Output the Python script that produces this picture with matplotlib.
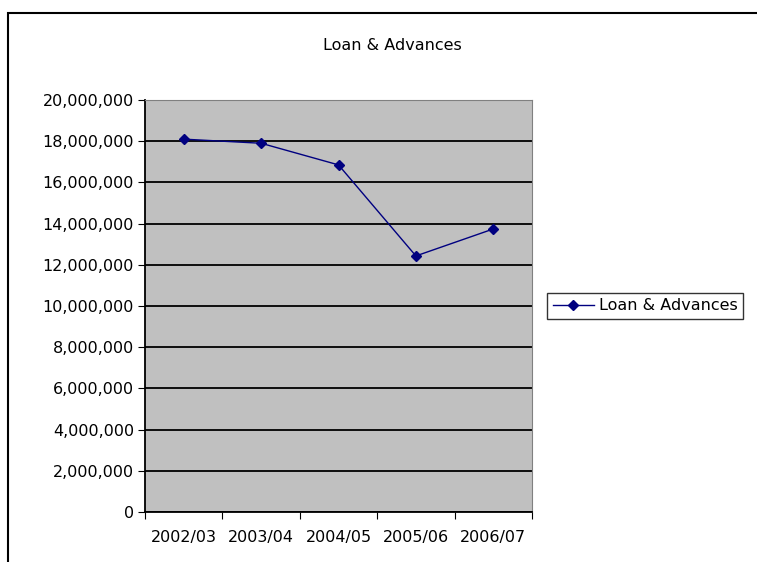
import matplotlib
matplotlib.use("Agg")
import matplotlib.pyplot as plt
from matplotlib.patches import Rectangle
from matplotlib.ticker import FuncFormatter, FixedLocator, NullFormatter

years = ["2002/03", "2003/04", "2004/05", "2005/06", "2006/07"]
loans = [18100000, 17900000, 16850000, 12430000, 13740000]

plt.rcParams["font.family"] = ["DejaVu Sans"]

fig = plt.figure(figsize=(7.57, 5.62), dpi=100)
fig.patches.append(Rectangle((8 / 757, -0.1), 1.2, (562 - 13) / 562 + 0.1,
                             transform=fig.transFigure, fill=False,
                             edgecolor="black", linewidth=1.5))

ax = fig.add_axes([145 / 757, 50 / 562, 387 / 757, 412 / 562])
ax.set_facecolor("#c0c0c0")
x = list(range(len(years)))
ax.plot(x, loans, color="#000080", linewidth=1, marker="D",
        markersize=5, label="Loan & Advances")

ax.set_xlim(-0.5, len(years) - 0.5)
ax.set_ylim(0, 20000000)
ax.set_yticks(range(0, 20000001, 2000000))
ax.yaxis.set_major_formatter(FuncFormatter(lambda v, p: f"{int(v):,}"))
ax.grid(axis="y", color="black", linewidth=1.3)
ax.set_axisbelow(True)

ax.xaxis.set_major_locator(FixedLocator([i - 0.5 for i in range(len(years) + 1)]))
ax.xaxis.set_major_formatter(NullFormatter())
ax.xaxis.set_minor_locator(FixedLocator(x))
ax.set_xticklabels(years, minor=True)
ax.tick_params(axis="x", which="minor", length=0, pad=13, labelsize=11.5)
ax.tick_params(axis="x", which="major", length=5, direction="out")
ax.tick_params(axis="y", length=5, direction="out", labelsize=11.5, pad=3)

for s in ["top", "right"]:
    ax.spines[s].set_color("#808080")
for s in ["left", "bottom"]:
    ax.spines[s].set_color("black")
    ax.spines[s].set_linewidth(1.3)

fig.text(392 / 757, 1 - 45 / 562, "Loan & Advances", ha="center", va="center",
         fontsize=11.5)

leg = ax.legend(loc="center left", bbox_to_anchor=(547 / 757, 1 - 306 / 562),
                bbox_transform=fig.transFigure, fontsize=11.5, frameon=True,
                fancybox=False, edgecolor="black", handlelength=2.6,
                borderpad=0.35, handletextpad=0.3, borderaxespad=0)
leg.get_frame().set_linewidth(1)

fig.savefig("out.png", dpi=100)
